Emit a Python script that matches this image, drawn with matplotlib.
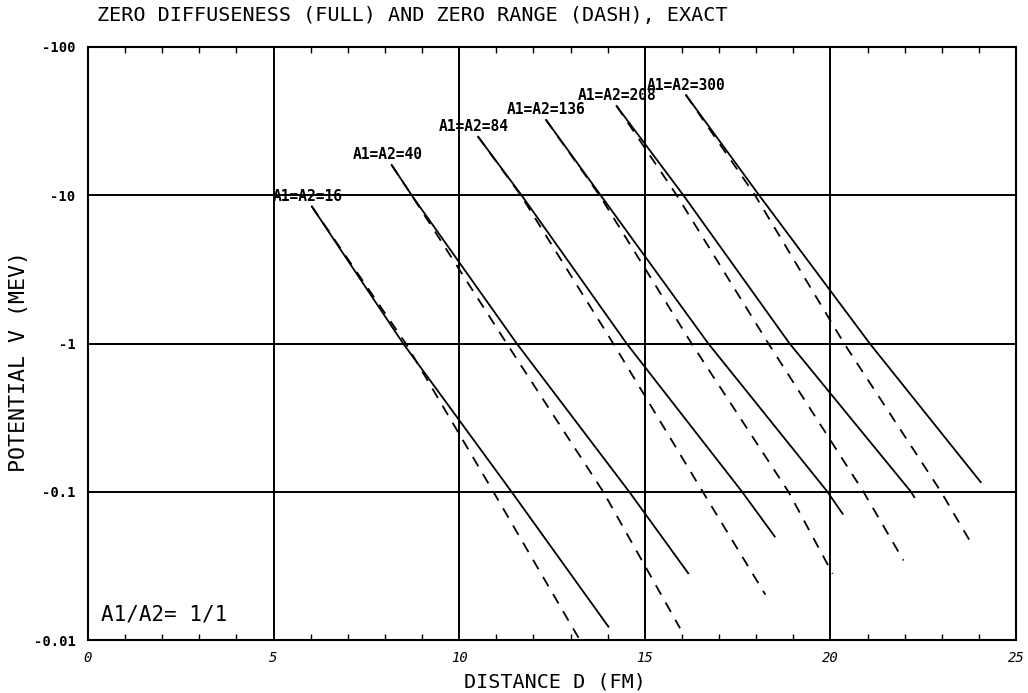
import numpy as np
import matplotlib
matplotlib.use("Agg")
import matplotlib.pyplot as plt
from matplotlib.ticker import FixedLocator, MultipleLocator, NullFormatter

# Mass numbers of the two (identical) nuclei
mass_numbers = [16, 40, 84, 136, 208, 300]

# Zero diffuseness (full lines): distance D (fm) and potential V (MeV)
full_d = [
    [6.03, 8.49, 11.41, 14.02],
    [8.18, 8.72, 11.55, 14.58, 16.17],
    [10.51, 11.68, 14.51, 17.62, 18.50],
    [12.34, 13.81, 16.71, 19.92, 20.33],
    [14.24, 16.04, 18.90, 22.17, 22.26],
    [16.11, 18.08, 21.06, 24.05],
]
full_v = [
    [-8.4, -1.0, -0.1, -0.0123],
    [-16.0, -10.0, -1.0, -0.1, -0.0282],
    [-24.8, -10.0, -1.0, -0.1, -0.0499],
    [-32.2, -10.0, -1.0, -0.1, -0.071],
    [-40.0, -10.0, -1.0, -0.1, -0.092],
    [-47.4, -10.0, -1.0, -0.116],
]

# Zero range (dashed lines)
dash_d = [
    [6.03, 8.56, 10.92, 13.25],
    [8.18, 8.72, 11.28, 13.88, 15.95],
    [10.51, 11.66, 14.15, 16.56, 18.25],
    [12.34, 13.78, 16.26, 18.87, 20.06],
    [14.24, 15.86, 18.33, 20.89, 21.97],
    [16.11, 17.97, 20.37, 22.98, 23.84],
]
dash_v = [
    [-8.4, -1.0, -0.1, -0.0100],
    [-16.0, -10.0, -1.0, -0.1, -0.0120],
    [-24.8, -10.0, -1.0, -0.1, -0.0202],
    [-32.2, -10.0, -1.0, -0.1, -0.0280],
    [-40.0, -10.0, -1.0, -0.1, -0.0344],
    [-47.4, -10.0, -1.0, -0.1, -0.0430],
]

y_ticks = [100, 10, 1, 0.1, 0.01]
y_tick_labels = ["-100", "-10", "-1", "-0.1", "-0.01"]
x_ticks = [0, 5, 10, 15, 20, 25]

MONO = "DejaVu Sans Mono"
plt.rcParams["font.family"] = MONO

W, H = 1028, 693
fig = plt.figure(figsize=(W / 100, H / 100), dpi=100)
ax = fig.add_axes([88 / W, 1 - 640 / H, (1016 - 88) / W, (640 - 47) / H])

ax.set_yscale("log")
ax.set_xlim(0, 25)
ax.set_ylim(0.01, 100)

# grid
for xv in x_ticks[1:-1]:
    ax.axvline(xv, color="black", lw=1.4, zorder=1)
for yv in y_ticks[1:-1]:
    ax.axhline(yv, color="black", lw=1.4, zorder=1)

for s in ax.spines.values():
    s.set_linewidth(1.5)

for A, d, v in zip(mass_numbers, full_d, full_v):
    ax.plot(d, np.abs(v), color="black", lw=1.3, zorder=3)
    ax.annotate(f"A1=A2={A}", xy=(d[0], abs(v[0])), xytext=(-39, 10),
                textcoords="offset pixels", ha="left", va="center",
                fontsize=10.5, fontweight="bold", zorder=4)

for d, v in zip(dash_d, dash_v):
    ax.plot(d, np.abs(v), color="black", lw=1.3, linestyle=(0, (6, 5)), zorder=3)

# ticks
ax.xaxis.set_major_locator(FixedLocator(x_ticks))
ax.xaxis.set_minor_locator(MultipleLocator(1))
ax.set_xticklabels([str(t) for t in x_ticks], fontsize=10, style="italic")
ax.yaxis.set_major_locator(FixedLocator(y_ticks))
ax.yaxis.set_minor_formatter(NullFormatter())
ax.yaxis.set_minor_locator(FixedLocator([]))
ax.set_yticklabels(y_tick_labels, fontsize=10, fontweight="bold")
ax.tick_params(axis="x", which="both", direction="in", top=True, bottom=True,
               length=4, width=1.0, pad=8)
ax.tick_params(axis="x", which="major", length=0)
ax.tick_params(axis="y", which="major", direction="in", length=0, pad=9)

ax.set_xlabel("DISTANCE D (FM)", fontsize=14.5)
ax.xaxis.set_label_coords(0.503, -0.054)
ax.set_ylabel("POTENTIAL V (MEV)", fontsize=15.5)
ax.yaxis.set_label_coords(-0.064, 0.47)

ax.text(101, H - 614, "A1/A2= 1/1", transform=None, fontsize=15, ha="left", va="center")

fig.text(97 / W, 1 - 15 / H, "ZERO DIFFUSENESS (FULL) AND ZERO RANGE (DASH), EXACT",
         fontsize=14.5, ha="left", va="center")

fig.savefig("out.png", dpi=100)
